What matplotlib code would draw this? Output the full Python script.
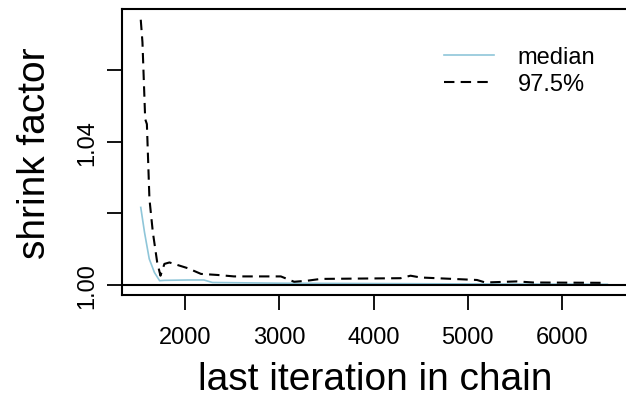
import numpy as np
import matplotlib
matplotlib.use("Agg")
import matplotlib.pyplot as plt

# gelman shrink factor
iter_median = [1530, 1570, 1620, 1675, 1730, 1780, 2030, 2200, 2290, 3000, 4000, 5000, 6480]
median = [1.0217, 1.0147, 1.0073, 1.0035, 1.0012, 1.0013, 1.0014, 1.0014, 1.0007,
          1.0005, 1.0004, 1.0003, 1.0002]

iter_975 = [1530, 1548, 1577, 1595, 1622, 1658, 1704, 1739, 1781, 1834, 2028, 2169,
            2346, 2519, 3016, 3157, 3298, 3439, 4286, 4392, 4497, 5097, 5185, 5520,
            5693, 6472]
q975 = [1.0742, 1.0679, 1.0464, 1.0450, 1.0241, 1.0148, 1.0064, 1.0026, 1.0059, 1.0063,
        1.0047, 1.0031, 1.0028, 1.0024, 1.0024, 1.0009, 1.0012, 1.0017, 1.0019, 1.0026,
        1.0021, 1.0014, 1.0007, 1.0010, 1.0007, 1.0006]

xticks = [2000, 3000, 4000, 5000, 6000]
yticks = [1.00, 1.02, 1.04, 1.06]
ylabels = ["1.00", "", "1.04", ""]

plt.rcParams['font.family'] = ['Liberation Sans', 'DejaVu Sans']

fig = plt.figure(figsize=(6.26, 4.02), dpi=100)
ax = fig.add_axes([122/626, 106/402, 506/626, 286/402])

ax.plot(iter_median, median, color='#8fc6d9', lw=1.2, label='median')
ax.plot(iter_975, q975, color='black', lw=1.5, dashes=(5, 3), label='97.5%')
ax.axhline(1.0, color='black', lw=1.5)

ax.set_xlim(1331, 6699)
ax.set_ylim(0.9972, 1.0772)
ax.set_xticks(xticks)
ax.set_xticklabels([str(t) for t in xticks], fontsize=17)
ax.set_yticks(yticks)
ax.set_yticklabels(ylabels, fontsize=17, rotation=90, va='center')
ax.tick_params(direction='out', length=11, width=1.3)
ax.tick_params(axis='x', pad=11)
ax.tick_params(axis='y', pad=6)

for s in ax.spines.values():
    s.set_linewidth(1.5)

ax.set_xlabel('last iteration in chain', fontsize=28, labelpad=10)
ax.set_ylabel('shrink factor', fontsize=28, labelpad=17)

ax.legend(loc='upper left', bbox_to_anchor=(423/626, 1 - 26/402),
          bbox_transform=fig.transFigure, frameon=False, fontsize=17,
          handlelength=2.1, handletextpad=1.0, labelspacing=0.2)

fig.savefig('out.png', dpi=100)
